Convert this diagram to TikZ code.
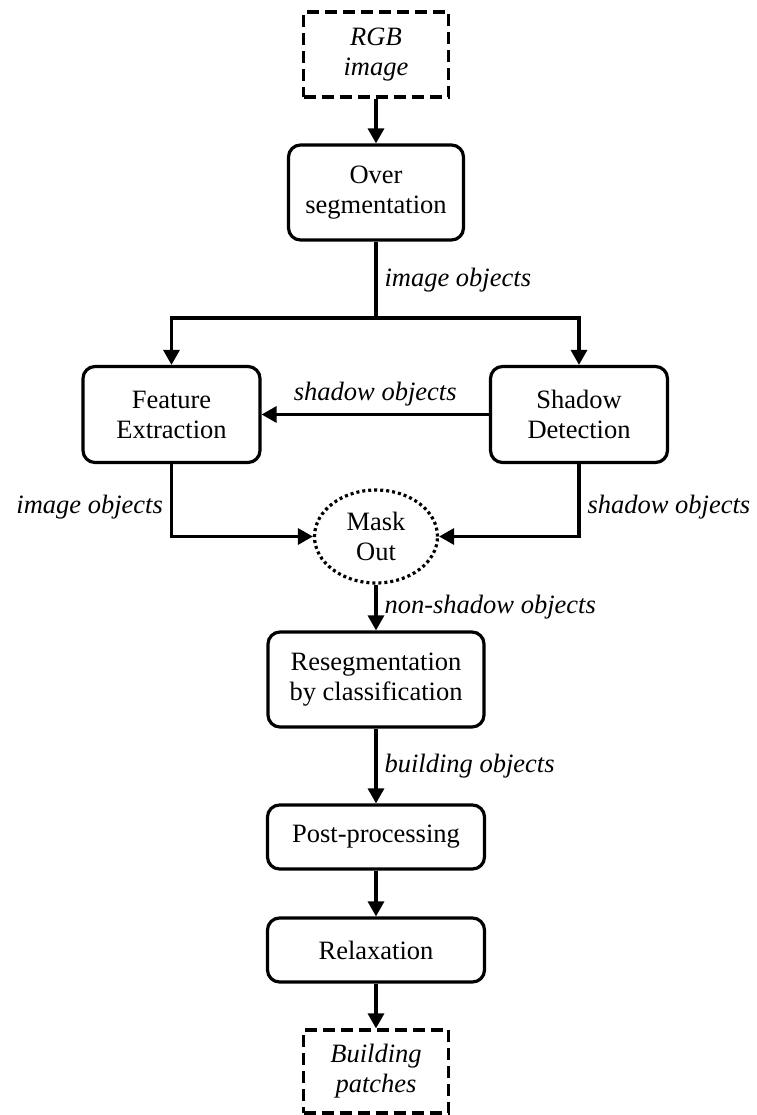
\documentclass[tikz,border=0pt]{standalone}
\usepackage{fontspec}
\setmainfont{Liberation Serif}
\usetikzlibrary{arrows.meta,shapes.geometric}

\newcommand{\diagfont}{\fontsize{26.5}{30}\selectfont}

\tikzset{
  procbox/.style={draw,rounded corners=12pt,align=center,inner sep=0pt,font=\diagfont},
  databox/.style={draw,dash pattern=on 12pt off 6pt,align=center,inner sep=0pt,font=\diagfont\itshape},
  maskoval/.style={draw,ellipse,dash pattern=on 3pt off 3pt,align=center,inner sep=0pt,font=\diagfont},
  lbl/.style={font=\diagfont\itshape,inner sep=7pt},
  flow/.style={draw,-{Triangle[length=15pt,width=16pt]}}
}

\begin{document}
\begin{tikzpicture}[x=1pt,y=-1pt,line width=3.2pt]
        \useasboundingbox (0,0) rectangle (756,1115);

        % data in and out
        \begin{scope}[every node/.style={databox,minimum width=145pt}]
          \node[minimum height=85pt] (rgb)   at (376,54.5)   {RGB\\image};
          \node[minimum height=83pt] (build) at (376,1071.5) {Building\\patches};
        \end{scope}

        % processing steps
        \begin{scope}[every node/.style={procbox}]
          \node[minimum width=175pt,minimum height=95pt] (over)  at (376,192.5) {Over\\segmentation};
          \node[minimum width=177pt,minimum height=96pt] (feat)  at (171.5,414.5) {Feature\\Extraction};
          \node[minimum width=177pt,minimum height=96pt] (shad)  at (579,414.5) {Shadow\\Detection};
          \node[minimum width=216pt,minimum height=95pt] (reseg) at (376,679.5) {Resegmentation\\by classification};
          \node[minimum width=217pt,minimum height=64pt] (post)  at (376,837) {Post-processing};
          \node[minimum width=217pt,minimum height=64pt] (relax) at (376,950) {Relaxation};
        \end{scope}

        \node[maskoval,minimum width=123pt,minimum height=93pt] (mask) at (376,536.5) {Mask\\Out};

        \coordinate (split) at (376,318);

        \draw[flow] (rgb) -- (over);
        \draw (over) -- node[lbl,right] (l1) {image objects} (split);
        \draw[flow] (split) -| (feat);
        \draw[flow] (split) -| (shad);
        \draw[flow] (shad) -- node[lbl,above] (l2) {shadow objects} (feat);
        \draw[flow] (feat) |- node[lbl,left,pos=0.3] (l3) {image objects} (mask);
        \draw[flow] (shad) |- node[lbl,right,pos=0.3] (l4) {shadow objects} (mask);
        \draw[flow] (mask) -- node[lbl,right] (l5) {non-shadow objects} (reseg);
        \draw[flow] (reseg) -- node[lbl,right] (l6) {building objects} (post);
        \draw[flow] (post) -- (relax);
        \draw[flow] (relax) -- (build);

      \end{tikzpicture}
\end{document}
